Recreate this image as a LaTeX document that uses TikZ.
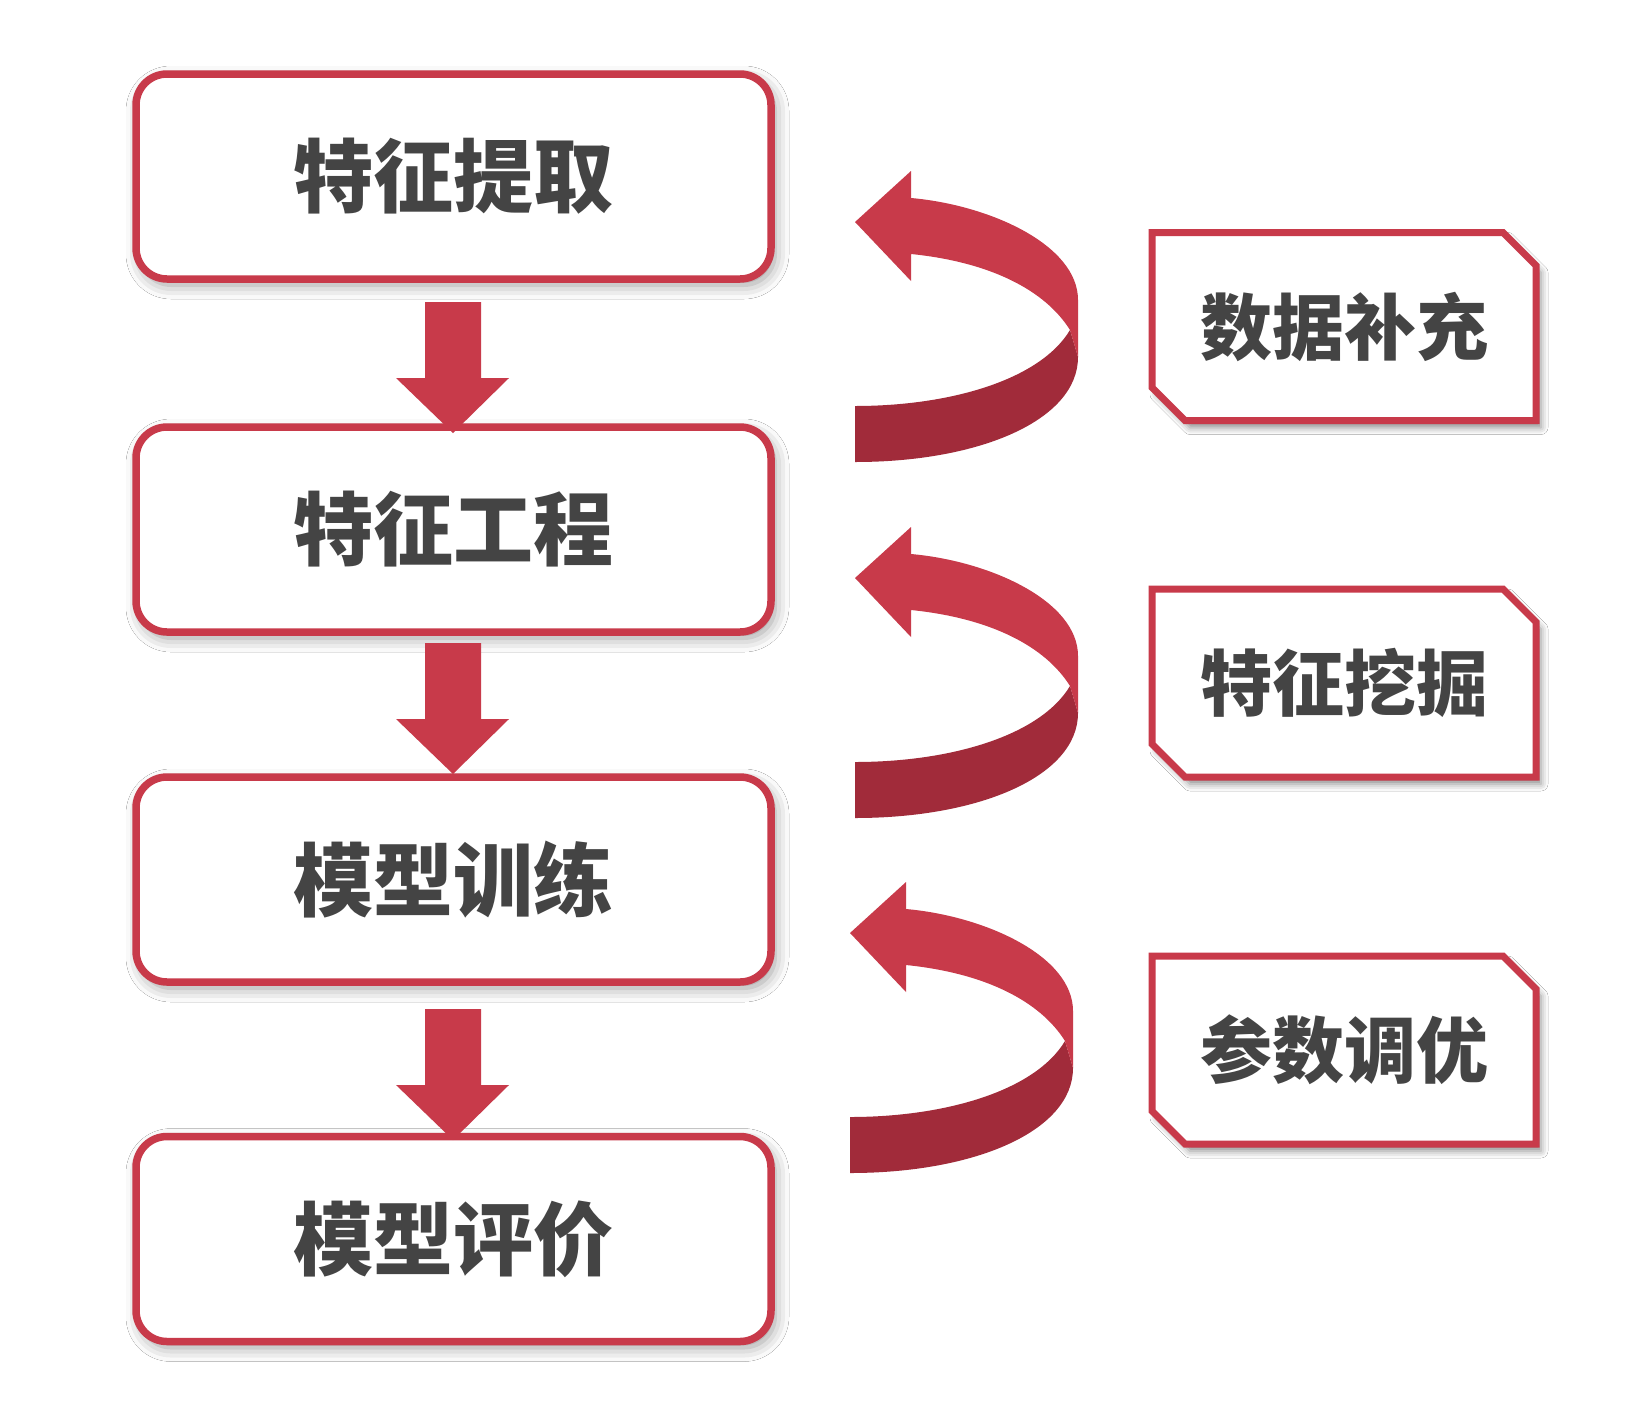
\documentclass[tikz,border=0pt]{standalone}
\usepackage{fontspec}
\newfontfamily\cjk{Noto Sans CJK SC}
\usetikzlibrary{calc,shapes.misc,shadows.blur}
\definecolor{rd}{RGB}{200,58,74}
\definecolor{drd}{RGB}{161,43,58}
\definecolor{txt}{RGB}{68,68,68}
\tikzset{
  lbox/.style={draw=rd, line width=7.5pt, fill=white, rounded corners=31pt,
    minimum width=635pt, minimum height=205pt, inner sep=0pt,
    font=\cjk\bfseries\fontsize{80pt}{80pt}\selectfont, text=txt,
    blur shadow={shadow xshift=4pt, shadow yshift=-6pt, shadow blur radius=14pt, shadow opacity=40}},
  rbox/.style={draw=rd, line width=7pt, fill=white, chamfered rectangle,
    chamfered rectangle corners={north east,south west},
    chamfered rectangle xsep=16.5pt, chamfered rectangle ysep=16.5pt,
    minimum width=384pt, minimum height=188pt, inner sep=0pt,
    font=\cjk\bfseries\fontsize{72pt}{72pt}\selectfont, text=txt,
    blur shadow={shadow xshift=5pt, shadow yshift=-7pt, shadow blur radius=7pt, shadow opacity=45}},
  downarrow/.style={fill=rd},
  bandlight/.style={fill=rd},
  banddark/.style={fill=drd}
}
\newcommand\twistarrow[2]{%
  \begin{scope}[shift={(#1,#2)}]
    \fill[banddark] (1070,330) -- (1078,357) .. controls (1078,420) and (980,462) .. (855,462)
      -- (855,406) .. controls (950,406) and (1040,380) .. (1070,330) -- cycle;
    \fill[bandlight] (911,198) .. controls (990,205) and (1078,245) .. (1078,300)
      -- (1078,357) -- (1070,330) .. controls (1045,290) and (990,262) .. (911,254)
      -- (911,281) -- (855,222) -- (911,171) -- cycle;
  \end{scope}}
\begin{document}
\begin{tikzpicture}[x=1pt,y=-1pt]
\useasboundingbox (0,0) rectangle (1640,1414);
\fill[white] (0,0) rectangle (1640,1414);
% left boxes
\node[lbox] (b1) at (453.5,176.5) {特征提取};
\node[lbox] (b2) at (453.5,529.5) {特征工程};
\node[lbox] (b3) at (453.5,879.5) {模型训练};
\node[lbox] (b4) at (453.5,1239) {模型评价};
% down arrows between the boxes
\fill[downarrow] (425,302) -- (481,302) -- (481,378) -- (509,378) -- (453,433) -- (396,378) -- (425,378) -- cycle;
\fill[downarrow] (425,643) -- (481,643) -- (481,719) -- (509,719) -- (453,774) -- (396,719) -- (425,719) -- cycle;
\fill[downarrow] (425,1009) -- (481,1009) -- (481,1085) -- (509,1085) -- (453,1140) -- (396,1085) -- (425,1085) -- cycle;
% right boxes
\node[rbox] (r1) at (1344,326.5) {数据补充};
\node[rbox] (r2) at (1344,683) {特征挖掘};
\node[rbox] (r3) at (1344,1050) {参数调优};
% twisted arrows
\twistarrow{0}{0}
\twistarrow{0}{356}
\twistarrow{-5}{711}
\end{tikzpicture}
\end{document}
